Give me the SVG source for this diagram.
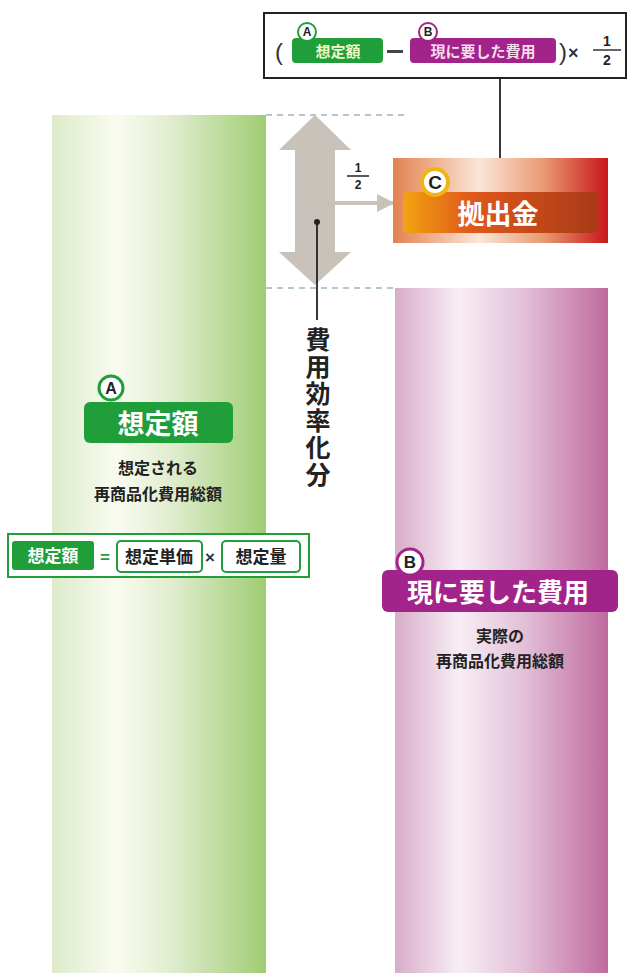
<svg xmlns="http://www.w3.org/2000/svg" width="627" height="973" viewBox="0 0 627 973">
<defs>
<linearGradient id="gGreen" x1="0" y1="0" x2="1" y2="0">
<stop offset="0" stop-color="#dcebc9"/>
<stop offset="0.3" stop-color="#f9fbf0"/>
<stop offset="0.55" stop-color="#e1edd0"/>
<stop offset="1" stop-color="#9fcd72"/>
</linearGradient>
<linearGradient id="gPurple" x1="0" y1="0" x2="1" y2="0">
<stop offset="0" stop-color="#d8acc9"/>
<stop offset="0.3" stop-color="#f8eef5"/>
<stop offset="0.6" stop-color="#e3c1d8"/>
<stop offset="1" stop-color="#bf6a9f"/>
</linearGradient>
<linearGradient id="gOrange" x1="0" y1="0" x2="1" y2="0">
<stop offset="0" stop-color="#e38250"/>
<stop offset="0.4" stop-color="#fbe6d8"/>
<stop offset="0.7" stop-color="#e99a72"/>
<stop offset="1" stop-color="#c8161a"/>
</linearGradient>
<linearGradient id="gOrangeIn" x1="0" y1="0" x2="1" y2="0">
<stop offset="0" stop-color="#f2a412"/>
<stop offset="0.35" stop-color="#e0581a"/>
<stop offset="1" stop-color="#a83a18"/>
</linearGradient>
<marker id="ah" viewBox="0 0 10 10" refX="9" refY="5" markerWidth="18" markerHeight="18" markerUnits="userSpaceOnUse" orient="auto">
<path d="M0,0 L10,5 L0,10 z" fill="#c9c2ba"/>
</marker>
<style>
.jp{font-family:"Noto Sans CJK JP","Noto Sans",sans-serif;font-weight:bold;}
.lat{font-family:"Liberation Sans","DejaVu Sans",sans-serif;font-weight:bold;}
.dash{stroke:#9fb4c0;stroke-width:1.5;stroke-dasharray:6,5;fill:none;}
.wt{fill:#ffffff;text-anchor:middle;}
.bk{fill:#222222;text-anchor:middle;}
.lbl{fill:#222222;text-anchor:middle;font-size:16px;}
</style>
</defs>
<rect width="627" height="973" fill="#ffffff"/>

<g id="barA">
<rect x="52" y="115" width="214" height="858" fill="url(#gGreen)"/>
</g>
<g id="barB">
<rect x="395" y="288" width="213" height="685" fill="url(#gPurple)"/>
</g>

<g id="connectors">
<line class="dash" x1="266" y1="115" x2="408" y2="115"/>
<line class="dash" x1="266" y1="288" x2="396" y2="288"/>
<polygon points="315,115 351,150 335,150 335,252 351,252 315,285 279,252 295,252 295,150 279,150" fill="#c9c2ba"/>
<line x1="335" y1="203" x2="393" y2="203" stroke="#c9c2ba" stroke-width="4" marker-end="url(#ah)"/>
<line x1="500" y1="79" x2="500" y2="179" stroke="#222" stroke-width="1.8"/>
<circle cx="500" cy="179" r="3" fill="#222"/>
<line x1="317" y1="222" x2="317" y2="320" stroke="#222" stroke-width="1.8"/>
<circle cx="317" cy="222" r="3" fill="#222"/>
</g>

<g id="half-label">
<text class="lat bk" x="358" y="172" font-size="12">1</text>
<line x1="347" y1="176" x2="369" y2="176" stroke="#222" stroke-width="1.5"/>
<text class="lat bk" x="358" y="189" font-size="12">2</text>
</g>

<g id="formulaTop">
<rect x="264" y="13" width="362" height="65" fill="#ffffff" stroke="#222" stroke-width="2"/>
<text x="275" y="60" font-size="24" fill="#333" font-family="Liberation Sans, sans-serif">(</text>
<rect x="292" y="38" width="91" height="25" rx="4" fill="#1f9e3a"/>
<text class="jp" x="338" y="57" font-size="15" fill="#eef7c8" text-anchor="middle">想定額</text>
<circle cx="307" cy="32" r="9" fill="#fff" stroke="#1f9e3a" stroke-width="2"/>
<text class="lat bk" x="307" y="36" font-size="12">A</text>
<rect x="387" y="50" width="16" height="3" fill="#444"/>
<rect x="410" y="38" width="146" height="25" rx="4" fill="#a2238a"/>
<text class="jp" x="483" y="57" font-size="15" fill="#f5dcec" text-anchor="middle">現に要した費用</text>
<circle cx="428" cy="32" r="9" fill="#fff" stroke="#a2238a" stroke-width="2"/>
<text class="lat bk" x="428" y="36" font-size="12">B</text>
<text x="559" y="60" font-size="24" fill="#333" font-family="Liberation Sans, sans-serif">)</text>
<text class="lat" x="568" y="59" font-size="18" fill="#333">×</text>
<text class="lat bk" x="607" y="46" font-size="14">1</text>
<line x1="593" y1="50" x2="621" y2="50" stroke="#333" stroke-width="1.5"/>
<text class="lat bk" x="607" y="65" font-size="14">2</text>
</g>

<g id="nodeC">
<rect x="393" y="158" width="215" height="85" fill="url(#gOrange)"/>
<rect x="403" y="192" width="195" height="41" rx="5" fill="url(#gOrangeIn)"/>
<text class="jp wt" x="498" y="224" font-size="27">拠出金</text>
<circle cx="435" cy="182" r="13" fill="#fff" stroke="#f2b415" stroke-width="4"/>
<text class="lat bk" x="435" y="189" font-size="19">C</text>
</g>

<g id="efficiencyLabel">
<text class="jp" x="318" y="327" font-size="25" fill="#222" stroke="#fff" stroke-width="3" paint-order="stroke" style="writing-mode:vertical-rl;letter-spacing:2px">費用効率化分</text>
</g>

<g id="nodeA">
<rect x="84" y="402" width="149" height="41" rx="6" fill="#1f9e3a"/>
<text class="jp wt" x="158" y="434" font-size="27">想定額</text>
<circle cx="111" cy="388" r="12" fill="#fff" stroke="#1f9e3a" stroke-width="3"/>
<text class="lat bk" x="111" y="394" font-size="16">A</text>
<text class="jp lbl" x="158" y="474">想定される</text>
<text class="jp lbl" x="158" y="500">再商品化費用総額</text>
</g>

<g id="formulaA">
<rect x="8" y="534" width="301" height="43" fill="#ffffff" stroke="#1f9e3a" stroke-width="2"/>
<rect x="12" y="541" width="82" height="29" rx="3" fill="#1f9e3a"/>
<text class="jp wt" x="53" y="562" font-size="17">想定額</text>
<text class="lat" x="100" y="563" font-size="17" fill="#1f9e3a">=</text>
<rect x="117" y="541" width="85" height="31" rx="4" fill="#fff" stroke="#1f9e3a" stroke-width="2"/>
<text class="jp bk" x="159" y="563" font-size="17">想定単価</text>
<text class="lat" x="205" y="563" font-size="17" fill="#333">×</text>
<rect x="222" y="541" width="78" height="31" rx="4" fill="#fff" stroke="#1f9e3a" stroke-width="2"/>
<text class="jp bk" x="261" y="563" font-size="17">想定量</text>
</g>

<g id="nodeB">
<rect x="382" y="570" width="236" height="42" rx="6" fill="#a2238a"/>
<text class="jp wt" x="498" y="602" font-size="26">現に要した費用</text>
<circle cx="410" cy="562" r="13" fill="#fff" stroke="#a2238a" stroke-width="3"/>
<text class="lat bk" x="410" y="568" font-size="17">B</text>
<text class="jp lbl" x="500" y="642">実際の</text>
<text class="jp lbl" x="500" y="667">再商品化費用総額</text>
</g>
</svg>
